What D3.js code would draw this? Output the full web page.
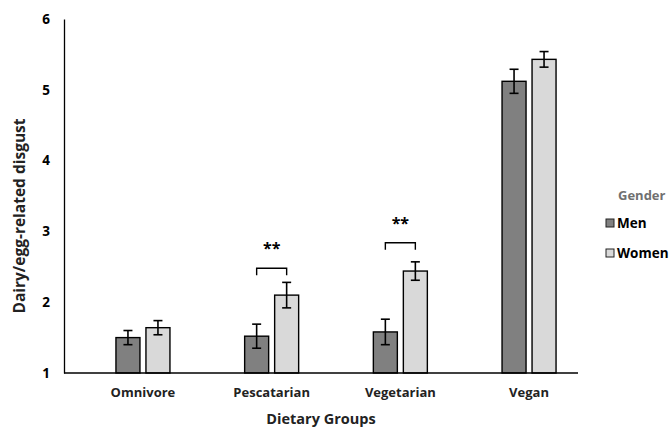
<!DOCTYPE html>
<html><head><meta charset="utf-8">
<script src="https://cdn.jsdelivr.net/npm/d3@7"></script>
<style>body{margin:0;background:#fff}svg{display:block}text{font-family:"Open Sans",sans-serif;font-weight:bold}</style>
</head><body><svg id="c" width="671" height="431"></svg>
<script>
const categories = ["Omnivore","Pescatarian","Vegetarian","Vegan"];
const genders = ["Men","Women"];
const menMeans = [1.50, 1.52, 1.58, 5.12];
const menErr = [0.10, 0.17, 0.18, 0.17];
const womenMeans = [1.64, 2.10, 2.44, 5.43];
const womenErr = [0.10, 0.18, 0.13, 0.11];
const yTicks = [1,2,3,4,5,6];
const sigCats = ["Pescatarian","Vegetarian"];
const sigLevels = [2.48, 2.84];
const sigLabel = "**";

const svg = d3.select("#c");
const W = 671, H = 431;
const axisLeftX = 64, axisRightX = 578;
const x = d3.scaleBand().domain(categories).range([78.6, 593.4]);
const y = d3.scaleLinear().domain([1,6]).range([373, 19]);
const x1 = d3.scaleBand().domain(genders).range([-27, 27]).paddingInner(0.2);
const color = d3.scaleOrdinal().domain(genders).range(["#808080","#d9d9d9"]);

const data = [];
categories.forEach((c,i)=>{
  data.push({cat:c, g:"Men", v:menMeans[i], e:menErr[i]});
  data.push({cat:c, g:"Women", v:womenMeans[i], e:womenErr[i]});
});

// axes
const yAxis = d3.axisLeft(y).tickValues(yTicks).tickSize(0).tickPadding(14).tickFormat(d3.format("d"));
const gy = svg.append("g").attr("transform",`translate(${axisLeftX},0)`).call(yAxis);
gy.select(".domain").attr("stroke","#000").attr("stroke-width",1.3);
gy.selectAll("text").attr("font-size",13.5).attr("fill","#000");

// bars
const cx = d => x(d.cat) + x.bandwidth()/2;
svg.append("g").selectAll("rect").data(data).join("rect")
  .attr("x", d => cx(d) + x1(d.g))
  .attr("y", d => y(d.v))
  .attr("width", x1.bandwidth())
  .attr("height", d => y(1) - y(d.v))
  .attr("fill", d => color(d.g))
  .attr("stroke","#000").attr("stroke-width",1.4);

// error bars
const eb = svg.append("g").attr("stroke","#000").attr("stroke-width",1.6);
data.forEach(d=>{
  const xc = cx(d) + x1(d.g) + x1.bandwidth()/2;
  eb.append("line").attr("x1",xc).attr("x2",xc).attr("y1",y(d.v+d.e)).attr("y2",y(d.v-d.e));
  eb.append("line").attr("x1",xc-4.5).attr("x2",xc+4.5).attr("y1",y(d.v+d.e)).attr("y2",y(d.v+d.e));
  eb.append("line").attr("x1",xc-4.5).attr("x2",xc+4.5).attr("y1",y(d.v-d.e)).attr("y2",y(d.v-d.e));
});

// x axis
const xAxis = d3.axisBottom(x).tickSize(0).tickPadding(15);
const gx = svg.append("g").attr("transform",`translate(0,${y(1)})`).call(xAxis);
gx.select(".domain").attr("stroke","#000").attr("stroke-width",1.3).attr("d",`M${axisLeftX},0H${axisRightX}`);
gx.selectAll("text").attr("font-size",13).attr("fill","#222");

// significance brackets
sigCats.forEach((c,k)=>{
  const by = y(sigLevels[k]);
  const xa = x(c)+x.bandwidth()/2 + x1("Men") + x1.bandwidth()/2;
  const xb = x(c)+x.bandwidth()/2 + x1("Women") + x1.bandwidth()/2;
  svg.append("path").attr("d",`M${xa},${by+7}V${by}H${xb}V${by+7}`)
    .attr("fill","none").attr("stroke","#000").attr("stroke-width",1.4);
  svg.append("text").attr("x",(xa+xb)/2).attr("y",by-14).attr("text-anchor","middle")
    .attr("font-size",16).attr("fill","#000").text(sigLabel);
});

// titles
svg.append("text").attr("x",321).attr("y",424).attr("text-anchor","middle")
  .attr("font-size",14.5).attr("fill","#222").text("Dietary Groups");
svg.append("text").attr("transform",`translate(25,216) rotate(-90)`).attr("text-anchor","middle")
  .attr("font-size",15.5).attr("fill","#222").text("Dairy/egg-related disgust");

// legend
const lg = svg.append("g");
lg.append("text").attr("x",618).attr("y",200).attr("font-size",13).attr("fill","#707070").text("Gender");
genders.forEach((g,i)=>{
  const yy = 223 + i*30;
  lg.append("rect").attr("x",606).attr("y",yy-4).attr("width",8).attr("height",8)
    .attr("fill",color(g)).attr("stroke","#222").attr("stroke-width",1);
  lg.append("text").attr("x",617).attr("y",yy+5).attr("font-size",13.5).attr("fill","#000").text(g);
});
</script></body></html>
